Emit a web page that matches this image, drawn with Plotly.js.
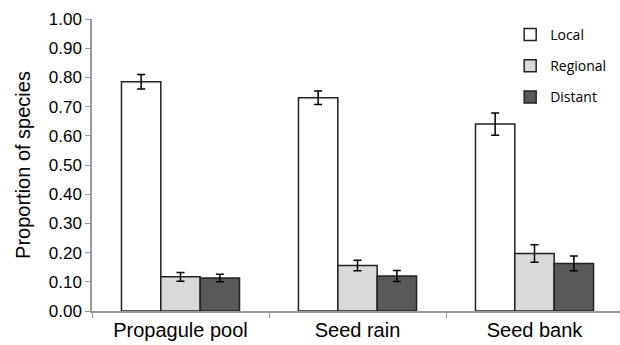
<!DOCTYPE html>
<html><head><meta charset="utf-8">
<script src="https://cdn.plot.ly/plotly-3.0.1.min.js"></script>
<style>html,body{margin:0;padding:0;background:#fff}</style>
</head><body><div id="chart" style="width:620px;height:345px"></div>
<script>
const categories = ["Propagule pool", "Seed rain", "Seed bank"];
const seriesNames = ["Local", "Regional", "Distant"];
const localVals = [0.785, 0.730, 0.640];
const localErr = [0.025, 0.023, 0.038];
const regionalVals = [0.117, 0.156, 0.197];
const regionalErr = [0.015, 0.018, 0.030];
const distantVals = [0.113, 0.120, 0.163];
const distantErr = [0.013, 0.019, 0.025];
const fills = ["#ffffff", "#d9d9d9", "#595959"];

const vals = [localVals, regionalVals, distantVals];
const errs = [localErr, regionalErr, distantErr];
const data = seriesNames.map((n, i) => ({
  type: "bar", name: n, x: categories, y: vals[i], legendgroup: n,
  marker: {color: fills[i], line: {color: "#222", width: 1.5}},
  error_y: {type: "data", array: errs[i], visible: true, color: "#000", thickness: 1.5, width: 4}
}));

const layout = {
  width: 620, height: 345,
  margin: {l: 92, r: 0, t: 19, b: 34},
  paper_bgcolor: "#fff", plot_bgcolor: "#fff",
  barmode: "group", bargap: 0.333, bargroupgap: 0,
  font: {family: "Liberation Sans, Arial, sans-serif", color: "#000"},
  xaxis: {
    range: [-0.5, 2.483],
    showline: true, linecolor: "#999", linewidth: 1.5, ticks: "outside", tickson: "boundaries",
    ticklen: 5, tickcolor: "#999", tickfont: {size: 20}, showgrid: false, zeroline: false
  },
  yaxis: {
    range: [0, 1], dtick: 0.1, tickformat: ".2f", showline: true, linecolor: "#999", linewidth: 1.5,
    ticks: "outside", ticklen: 5, tickcolor: "#999", tickfont: {size: 17}, showgrid: false, zeroline: false,
    title: {text: "Proportion of species", font: {size: 20}, standoff: 13}
  },
  showlegend: true,
  legend: {
    x: 0.792, y: 1.0, xanchor: "left", yanchor: "top", traceorder: "grouped", tracegroupgap: 10,
    font: {family: "Open Sans, sans-serif", size: 14}, bgcolor: "rgba(0,0,0,0)", itemwidth: 30
  }
};
Plotly.newPlot("chart", data, layout, {displayModeBar: false});
</script></body></html>
